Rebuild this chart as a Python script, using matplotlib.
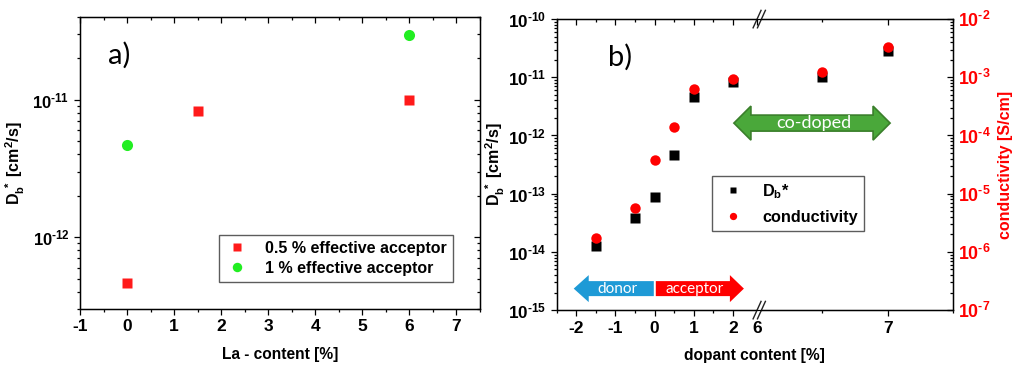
import numpy as np
import matplotlib
matplotlib.use("Agg")
import matplotlib.pyplot as plt
from matplotlib.ticker import FixedLocator, LogLocator, FuncFormatter, NullFormatter
from matplotlib.patches import Polygon

plt.rcParams['font.family'] = ['Liberation Sans', 'DejaVu Sans']
plt.rcParams['font.weight'] = 'bold'
plt.rcParams['axes.unicode_minus'] = False
plt.rcParams['mathtext.fontset'] = 'custom'
plt.rcParams['mathtext.rm'] = 'Liberation Sans:bold'
plt.rcParams['mathtext.bf'] = 'Liberation Sans:bold'
plt.rcParams['mathtext.it'] = 'Liberation Sans:bold'

# ---------------- data ----------------
# panel a
la_red_x = [0, 1.5, 6]
la_red_y = [4.6e-13, 8.3e-12, 1.0e-11]
la_green_x = [0, 6]
la_green_y = [4.7e-12, 2.94e-11]
label_red_a = "0.5 % effective acceptor"
label_green_a = "1 % effective acceptor"

# panel b
dop_x = [-1.5, -0.5, 0, 0.5, 1, 2, 6.5, 7]
db_y = [1.26e-14, 3.8e-14, 8.9e-14, 4.6e-13, 4.6e-12, 8.3e-12, 1.0e-11, 2.85e-11]
cond_y = [1.7e-6, 5.6e-6, 3.8e-5, 1.4e-4, 6.2e-4, 9.3e-4, 1.23e-3, 3.35e-3]
xticks_b = [-2, -1, 0, 1, 2, 6, 7]
xminor_b = [-2.5, -1.5, -0.5, 0.5, 1.5, 6.5, 7.5]

# ---------------- figure ----------------
fig = plt.figure(figsize=(10.14, 3.67), dpi=100)
axa = fig.add_axes([0.0789, 0.158, 0.3945, 0.796])
axb = fig.add_axes([0.549, 0.155, 0.391, 0.793])

def dec_fmt(v, pos):
    e = int(round(np.log10(v)))
    if e < 0:
        return r'$\mathbf{10^{\text{-}%d}}$' % (-e)
    return r'$\mathbf{10^{%d}}$' % e

def style_main(ax, tl):
    ax.tick_params(which='both', direction='out', top=False, right=False,
                   labelsize=tl, width=0.9)
    ax.tick_params(which='major', length=4)
    ax.tick_params(which='minor', length=2.2)
    for s in ax.spines.values():
        s.set_linewidth(1.0)
        s.set_color('#333333')

def mirror(ax_main, twin, axis):
    twin.tick_params(which='both', direction='in', width=0.9,
                     labeltop=False, labelright=False, labelbottom=False, labelleft=False)
    twin.tick_params(which='major', length=4)
    twin.tick_params(which='minor', length=2.2)

# ---------- panel a ----------
axa.plot(la_red_x, la_red_y, 's', color='#ff1a1a', ms=7, mec='none', label=label_red_a)
axa.plot(la_green_x, la_green_y, 'o', color='#22ee22', ms=8, mec='none', label=label_green_a)
axa.set_yscale('log')
axa.set_ylim(3.0e-13, 4.0e-11)
axa.set_xlim(-1, 7.5)
axa.xaxis.set_major_locator(FixedLocator(range(-1, 8)))
axa.xaxis.set_minor_locator(FixedLocator(np.arange(-0.5, 7.6, 1.0)))
axa.yaxis.set_major_locator(LogLocator(base=10, numticks=20))
axa.yaxis.set_minor_locator(LogLocator(base=10, subs=np.arange(2, 10), numticks=20))
axa.yaxis.set_major_formatter(FuncFormatter(dec_fmt))
axa.yaxis.set_minor_formatter(NullFormatter())
style_main(axa, 12)
axa.tick_params(axis='x', labelsize=12.5)
axa.set_xlabel("La - content [%]", fontsize=11.2, fontweight='bold', labelpad=9)
axa.set_ylabel(r'$\mathbf{D_b^{\ *}\ [cm^2/s]}$', fontsize=11.5, labelpad=4)
axa.text(0.07, 0.87, "a)", transform=axa.transAxes, fontsize=21,
         fontweight='normal', family='Lato', va='center')
leg = axa.legend(loc='upper left', bbox_to_anchor=(0.3475, 0.255), fontsize=11.5,
                 frameon=True, fancybox=False, edgecolor='#333333',
                 handletextpad=1.0, borderpad=0.4, labelspacing=0.3, handlelength=1.5,
                 markerscale=0.85, borderaxespad=0)
leg.get_frame().set_linewidth(1.0)

# mirrored ticks (inward) for panel a
ta = axa.twiny()
ta.set_xlim(axa.get_xlim())
ta.xaxis.set_major_locator(FixedLocator(range(-1, 8)))
ta.xaxis.set_minor_locator(FixedLocator(np.arange(-0.5, 7.6, 1.0)))
mirror(axa, ta, 'x')
ra = axa.twinx()
ra.set_yscale('log')
ra.set_ylim(axa.get_ylim())
ra.yaxis.set_major_locator(LogLocator(base=10, numticks=20))
ra.yaxis.set_minor_locator(LogLocator(base=10, subs=np.arange(2, 10), numticks=20))
mirror(axa, ra, 'y')

# ---------- panel b : broken x scale ----------
B1 = 2.62
K = 3.34

def fwd(x):
    x = np.asarray(x, dtype=float)
    return np.where(x <= B1, x, np.where(x < 6, B1, B1 + (x - 6) * K))

def inv(u):
    u = np.asarray(u, dtype=float)
    return np.where(u <= B1, u, 6 + (u - B1) / K)

axb.set_xscale('function', functions=(fwd, inv))
axb.plot(dop_x, db_y, 's', color='black', ms=6.5, mec='none', label=r'$\mathbf{D_b}$*')
axb.set_yscale('log')
axb.set_ylim(1e-15, 1e-10)
axb.set_xlim(-2.5, 7.5)
axb.xaxis.set_major_locator(FixedLocator(xticks_b))
axb.xaxis.set_minor_locator(FixedLocator(xminor_b))
axb.xaxis.set_major_formatter(FuncFormatter(lambda v, p: "%d" % round(v)))
axb.yaxis.set_major_locator(LogLocator(base=10, numticks=20))
axb.yaxis.set_minor_locator(LogLocator(base=10, subs=np.arange(2, 10), numticks=20))
axb.yaxis.set_major_formatter(FuncFormatter(dec_fmt))
axb.yaxis.set_minor_formatter(NullFormatter())
style_main(axb, 12.3)
axb.tick_params(axis='x', labelsize=12.5)
axb.set_xlabel("dopant content [%]", fontsize=11.2, fontweight='bold', labelpad=9)
axb.set_ylabel(r'$\mathbf{D_b^{\ *}\ [cm^2/s]}$', fontsize=11.5, labelpad=1)
axb.text(0.13, 0.87, "b)", transform=axb.transAxes, fontsize=21,
         fontweight='normal', family='Lato', va='center')

tb = axb.twiny()
tb.set_xscale('function', functions=(fwd, inv))
tb.set_xlim(axb.get_xlim())
tb.xaxis.set_major_locator(FixedLocator(xticks_b))
tb.xaxis.set_minor_locator(FixedLocator(xminor_b))
mirror(axb, tb, 'x')

rb = axb.twinx()
rb.plot(dop_x, cond_y, 'o', color='#ff0000', ms=7.5, mec='none', label='conductivity')
rb.set_yscale('log')
rb.set_ylim(1e-7, 1e-2)
rb.yaxis.set_major_locator(LogLocator(base=10, numticks=20))
rb.yaxis.set_minor_locator(LogLocator(base=10, subs=np.arange(2, 10), numticks=20))
rb.yaxis.set_major_formatter(FuncFormatter(dec_fmt))
rb.yaxis.set_minor_formatter(NullFormatter())
rb.tick_params(which='both', direction='in', labelsize=12.8, labelcolor='#ff0000', width=0.9)
rb.tick_params(which='major', length=4)
rb.tick_params(which='minor', length=2.2)
rb.set_ylabel("conductivity [S/cm]", color='#ff0000', fontsize=11.5, fontweight='bold', labelpad=5)

h1, l1 = axb.get_legend_handles_labels()
h2, l2 = rb.get_legend_handles_labels()
legb = rb.legend(h1 + h2, l1 + l2, loc='upper left', bbox_to_anchor=(0.391, 0.462),
                 fontsize=11.7, frameon=True, fancybox=False, edgecolor='#333333',
                 handletextpad=0.9, borderpad=0.4, labelspacing=0.55, handlelength=1.8,
                 markerscale=0.7, borderaxespad=0)
legb.get_frame().set_linewidth(1.0)

# axis break marks
bx = (fwd(B1) - fwd(-2.5)) / (fwd(7.5) - fwd(-2.5))
for yb in (0.0, 1.0):
    dx, dy = 0.010, 0.030
    gap = 0.011
    poly = Polygon([[bx - dx, yb - dy], [bx + dx, yb + dy], [bx + dx + gap, yb + dy],
                    [bx - dx + gap, yb - dy]], closed=True, transform=axb.transAxes,
                   facecolor='white', edgecolor='none', clip_on=False, zorder=5)
    axb.add_patch(poly)
    for off in (0.0, gap):
        axb.plot([bx - dx + off, bx + dx + off], [yb - dy, yb + dy], color='#222222',
                 lw=1.0, transform=axb.transAxes, clip_on=False, zorder=6)

# annotation arrows (axes-fraction coordinates)
def arrow_poly(x0, x1, hx, yc, hb, hh, fc, ec, ax):
    pts = [[x0, yc - hb], [hx, yc - hb], [hx, yc - hh], [x1, yc], [hx, yc + hh],
           [hx, yc + hb], [x0, yc + hb]]
    ax.add_patch(Polygon(pts, closed=True, transform=ax.transAxes, facecolor=fc,
                         edgecolor=ec, lw=1.0, zorder=4))

W, X0, H, Y0 = 396.0, 557.0, 291.0, 310.0
def fx(px):
    return (px - X0) / W
def fy(py):
    return (Y0 - py) / H

# donor (blue)
arrow_poly(fx(654), fx(574), fx(589), fy(288.5), 7.5 / H, 13.5 / H, '#1e9ad6', 'none', axb)
axb.text(fx(618), fy(289), "donor", transform=axb.transAxes, color='white',
         fontsize=11, family='Lato', fontweight='normal', ha='center', va='center', zorder=7)
# acceptor (red)
arrow_poly(fx(656), fx(744), fx(730), fy(288.5), 7.5 / H, 13.5 / H, '#ff0000', 'none', axb)
axb.text(fx(695), fy(289), "acceptor", transform=axb.transAxes, color='white',
         fontsize=11, family='Lato', fontweight='normal', ha='center', va='center', zorder=7)
# co-doped (green double arrow)
yc = fy(123)
hb, hh = 8.0 / H, 17.0 / H
xl, xr = fx(734), fx(890)
hl, hr = fx(751), fx(873)
pts = [[xl, yc], [hl, yc + hh], [hl, yc + hb], [hr, yc + hb], [hr, yc + hh], [xr, yc],
       [hr, yc - hh], [hr, yc - hb], [hl, yc - hb], [hl, yc - hh]]
axb.add_patch(Polygon(pts, closed=True, transform=axb.transAxes, facecolor='#4aa83a',
                      edgecolor='#3a7f2b', lw=1.2, zorder=4))
axb.text((xl + xr) / 2 + 0.005, yc, "co-doped", transform=axb.transAxes, color='white',
         fontsize=13, family='Lato', fontweight='normal', ha='center', va='center', zorder=7)

fig.savefig("out.png", dpi=100)
